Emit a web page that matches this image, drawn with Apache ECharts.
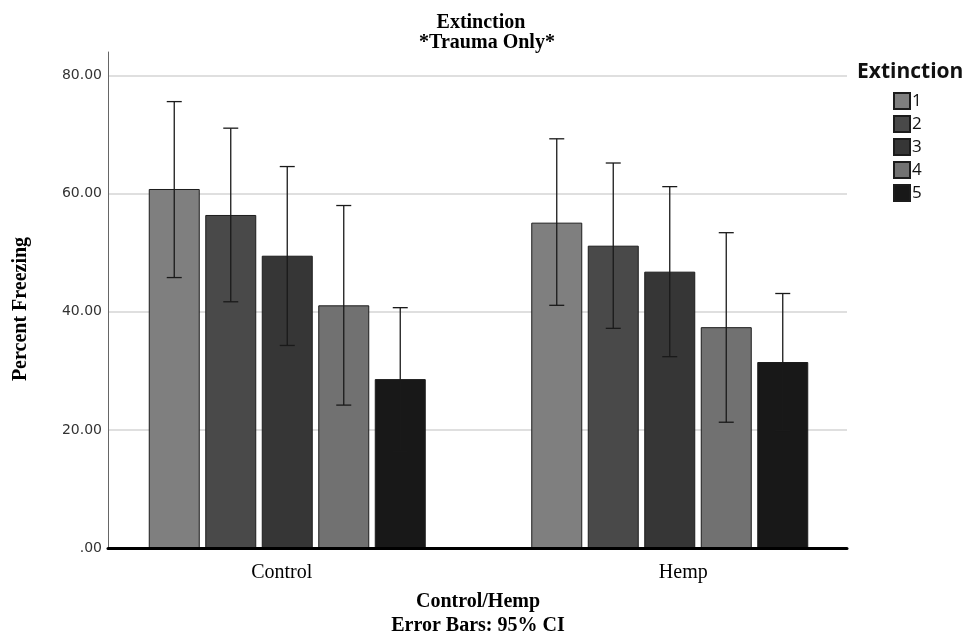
<!DOCTYPE html>
<html>
<head>
<meta charset="utf-8">
<script src="https://cdn.jsdelivr.net/npm/echarts@6/dist/echarts.min.js"></script>
<style>
html,body{margin:0;padding:0;background:#fff;}
#chart{width:965px;height:637px;}
</style>
</head>
<body>
<div id="chart"></div>
<script>
// ---- data ----
const categories = ['Control', 'Hemp'];
const seriesNames = ['1', '2', '3', '4', '5'];
const mean1 = [60.8, 55.1];
const mean2 = [56.4, 51.2];
const mean3 = [49.5, 46.8];
const mean4 = [41.1, 37.4];
const mean5 = [28.6, 31.5];
const low1 = [45.8, 41.1];
const low2 = [41.7, 37.2];
const low3 = [34.3, 32.4];
const low4 = [24.2, 21.3];
const low5 = [16.4, 19.9];
const high1 = [75.6, 69.3];
const high2 = [71.1, 65.2];
const high3 = [64.6, 61.2];
const high4 = [58.0, 53.4];
const high5 = [40.7, 43.1];
const yTicks = [0, 20, 40, 60, 80];

// ---- styling ----
const colors = ['#7f7f7f', '#494949', '#363636', '#717171', '#181818'];
const BAR_W = 51, BAR_GAP = 5.5;
const SERIF = '"Liberation Serif", "Times New Roman", serif';

const means = [mean1, mean2, mean3, mean4, mean5];
const lows = [low1, low2, low3, low4, low5];
const highs = [high1, high2, high3, high4, high5];

const chart = echarts.init(document.getElementById('chart'), null, {renderer: 'canvas'});

const barSeries = seriesNames.map((name, k) => ({
  name: name,
  type: 'bar',
  xAxisIndex: 1,
  yAxisIndex: 1,
  barWidth: BAR_W,
  barGap: (BAR_GAP / BAR_W * 100) + '%',
  data: means[k],
  itemStyle: {color: colors[k], borderColor: '#1c1c1c', borderWidth: 1},
  emphasis: {disabled: true},
  z: 2
}));

const errSeries = seriesNames.map((name, k) => ({
  name: name,
  type: 'custom',
  xAxisIndex: 1,
  yAxisIndex: 1,
  silent: true,
  z: 5,
  data: categories.map((c, i) => [i, lows[k][i], highs[k][i]]),
  encode: {x: 0, y: [1, 2]},
  renderItem: function (params, api) {
    const lo = api.coord([api.value(0), api.value(1)]);
    const hi = api.coord([api.value(0), api.value(2)]);
    const x = lo[0] + (k - 2) * (BAR_W + BAR_GAP);
    const cap = 7.5;
    const style = {stroke: '#1a1a1a', lineWidth: 1.3};
    return {
      type: 'group',
      children: [
        {type: 'line', shape: {x1: x, y1: hi[1], x2: x, y2: lo[1]}, style: style},
        {type: 'line', shape: {x1: x - cap, y1: hi[1], x2: x + cap, y2: hi[1]}, style: style},
        {type: 'line', shape: {x1: x - cap, y1: lo[1], x2: x + cap, y2: lo[1]}, style: style}
      ]
    };
  }
}));

const option = {
  animation: false,
  backgroundColor: '#fff',
  grid: [
    {left: 108, right: 118, top: 52, bottom: 89},
    {left: 96, right: 104, top: 52, bottom: 89}
  ],
  xAxis: [
    {
      gridIndex: 0, type: 'category', data: categories, z: 10,
      axisLine: {show: true, lineStyle: {color: '#000', width: 3}},
      axisTick: {show: false}, axisLabel: {show: false}, splitLine: {show: false}
    },
    {
      gridIndex: 1, type: 'category',
      data: [
        {value: categories[0], textStyle: {padding: [0, 11, 0, 0]}},
        {value: categories[1], textStyle: {padding: [0, 0, 0, 27]}}
      ],
      axisLine: {show: false}, axisTick: {show: false},
      axisLabel: {show: true, margin: 15, fontFamily: SERIF, fontSize: 20, color: '#000'},
      splitLine: {show: false}
    }
  ],
  yAxis: [
    {
      gridIndex: 0, type: 'value', min: yTicks[0], max: 84, interval: 20,
      axisLine: {show: true, lineStyle: {color: '#666', width: 1}},
      axisTick: {show: false},
      axisLabel: {
        margin: 6, fontFamily: '"DejaVu Sans", sans-serif', fontSize: 14, color: '#333',
        showMaxLabel: false,
        formatter: function (v) { return yTicks.indexOf(v) < 0 ? '' : (v === 0 ? '.00' : v.toFixed(2)); }
      },
      splitLine: {show: true, showMinLine: false, showMaxLine: false, lineStyle: {color: '#d4d4d4', width: 1.5}}
    },
    {
      gridIndex: 1, type: 'value', min: yTicks[0], max: 84, interval: 20, show: false,
      splitLine: {show: false}
    }
  ],
  legend: {
    orient: 'vertical',
    left: 893, top: 92, padding: 0,
    data: seriesNames,
    icon: 'rect',
    itemWidth: 16, itemHeight: 16, itemGap: 5,
    selectedMode: false,
    textStyle: {fontFamily: '"Open Sans", sans-serif', fontSize: 17, color: '#111', padding: [0, 0, 0, -3]}
  },
  graphic: [
    {type: 'text', x: 481, y: 23, style: {text: 'Extinction', font: 'bold 20px ' + SERIF, fill: '#000', align: 'center', verticalAlign: 'middle'}},
    {type: 'text', x: 487, y: 43, style: {text: '*Trauma Only*', font: 'bold 20px ' + SERIF, fill: '#000', align: 'center', verticalAlign: 'middle'}},
    {type: 'text', x: 21, y: 309, rotation: Math.PI / 2, style: {text: 'Percent Freezing', font: 'bold 20px ' + SERIF, fill: '#000', align: 'center', verticalAlign: 'middle'}},
    {type: 'text', x: 478, y: 602, style: {text: 'Control/Hemp', font: 'bold 20px ' + SERIF, fill: '#000', align: 'center', verticalAlign: 'middle'}},
    {type: 'text', x: 478, y: 626, style: {text: 'Error Bars: 95% CI', font: 'bold 20px ' + SERIF, fill: '#000', align: 'center', verticalAlign: 'middle'}},
    {type: 'text', x: 857, y: 72, style: {text: 'Extinction', font: 'bold 21px "Open Sans", sans-serif', fill: '#111', align: 'left', verticalAlign: 'middle'}}
  ],
  series: barSeries.concat(errSeries)
};

chart.setOption(option);
</script>
</body>
</html>
